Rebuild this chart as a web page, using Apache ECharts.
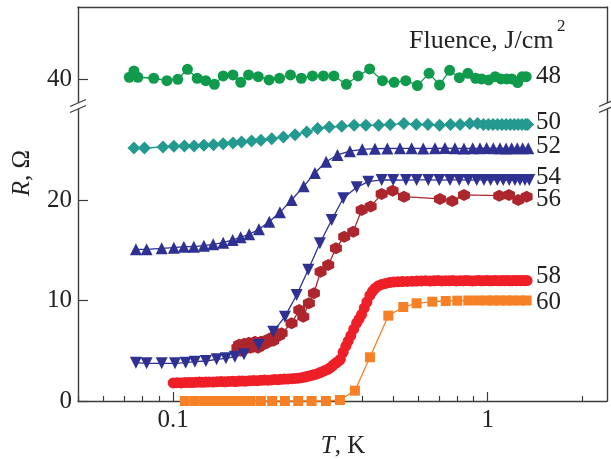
<!DOCTYPE html>
<html><head><meta charset="utf-8">
<script src="https://cdn.jsdelivr.net/npm/echarts@6/dist/echarts.min.js"></script>
<style>html,body{margin:0;padding:0;background:#fff}#c{width:611px;height:459px}</style>
</head><body><div id="c"></div>
<script>
// ---- data (T in K, R in Ohm) ----
const T48 = [0.0725,0.0750,0.0772,0.0867,0.0955,0.1034,0.1110,0.1192,0.1269,0.1352,0.1442,0.1549,0.1640,0.1736,0.1864,0.2018,0.2178,0.2360,0.2555,0.2773,0.3003,0.3243,0.3553,0.3871,0.4214,0.4628,0.5042,0.5490,0.5978,0.6510,0.7031,0.7568,0.8128,0.8650,0.9158,0.9563,1.0067,1.0565,1.1022,1.1502,1.194,1.2456,1.288,1.326];
const R48 = [40.17,40.80,40.17,40.07,39.83,39.97,40.96,40.07,39.83,39.47,40.30,40.40,39.67,40.40,40.23,39.90,40.07,40.40,40.07,40.30,40.30,40.30,39.47,40.30,41.00,39.83,39.67,39.83,39.34,40.56,39.40,40.86,40.13,40.56,40.07,40.00,39.90,40.23,40.00,40.00,40.00,39.64,40.23,40.23];

const T50 = [0.0750,0.0810,0.0928,0.1005,0.1085,0.1165,0.1252,0.1343,0.1442,0.1549,0.1649,0.1775,0.1901,0.2058,0.2241,0.2441,0.2658,0.2879,0.3135,0.3436,0.3761,0.4099,0.4500,0.4899,0.5414,0.5929,0.6457,0.7031,0.7615,0.8175,0.8776,0.9287,0.9696,1.005,1.04,1.075,1.11,1.145,1.18,1.215,1.25,1.285,1.32,1.34];
const R50 = [25.17,25.17,25.27,25.34,25.37,25.37,25.44,25.50,25.60,25.67,25.77,25.87,25.94,26.10,26.27,26.50,26.77,27.10,27.26,27.33,27.43,27.43,27.43,27.50,27.60,27.50,27.50,27.43,27.50,27.50,27.60,27.60,27.52,27.50,27.52,27.50,27.50,27.52,27.50,27.50,27.52,27.50,27.50,27.50];

const T52 = [0.0761,0.0823,0.0919,0.1005,0.1081,0.1163,0.1252,0.1340,0.1442,0.1545,0.1638,0.1744,0.1873,0.2020,0.2185,0.2379,0.2600,0.2822,0.3064,0.3328,0.3648,0.3991,0.4381,0.4796,0.5260,0.5731,0.6240,0.6800,0.7314,0.7870,0.8407,0.8960,0.9452,0.9926,1.042,1.094,1.144,1.192,1.242,1.292,1.346];
const R52 = [15.09,15.09,15.19,15.25,15.35,15.35,15.45,15.59,15.75,16.02,16.29,16.59,17.08,17.84,18.77,20.00,21.36,22.69,23.80,24.48,24.86,25.04,25.10,25.12,25.14,25.14,25.12,25.14,25.16,25.14,25.12,25.14,25.14,25.16,25.14,25.14,25.12,25.14,25.14,25.14,25.14];

const T54 = [0.0761,0.0823,0.0919,0.1013,0.1095,0.1172,0.1270,0.1374,0.1471,0.1571,0.1679,0.1870,0.2080,0.2266,0.2469,0.2688,0.2927,0.3191,0.3473,0.3832,0.4171,0.4601,0.5007,0.5497,0.5943,0.6472,0.7015,0.7586,0.8121,0.8676,0.9226,0.9732,1.022,1.073,1.121,1.171,1.221,1.267,1.314,1.356];
const R54 = [3.81,3.75,3.75,3.75,3.81,3.91,3.98,4.15,4.25,4.41,4.64,5.60,6.90,8.39,10.55,13.05,15.69,18.01,20.17,21.26,21.82,21.99,22.00,21.98,22.00,22.00,21.98,22.00,22.00,21.98,22.00,22.00,21.98,22.00,22.00,21.98,22.00,22.00,22.00,21.98];

const T56 = [0.160,0.162,0.164,0.166,0.168,0.170,0.172,0.174,0.176,0.178,0.180,0.182,0.184,0.186,0.188,0.190,0.193,0.196,0.199,0.202,0.205,0.208,0.211,0.214,0.217,0.2212,0.2379,0.2517,0.2592,0.2701,0.2802,0.2942,0.3112,0.3292,0.3498,0.3737,0.3974,0.4245,0.4601,0.4985,0.5417,0.7052,0.7716,0.8407,1.0887,1.1687,1.251,1.330];
const R56 = [5.3,5.6,5.0,5.4,5.7,5.2,5.5,5.8,5.3,5.6,5.4,5.9,5.6,5.3,5.7,5.9,5.6,6.0,5.8,6.1,6.3,6.0,6.4,6.7,6.5,6.74,7.73,9.05,8.39,9.72,10.72,12.87,13.53,15.19,16.35,16.85,19.0,19.34,20.6,20.93,20.33,20.1,19.9,20.5,20.43,20.5,20.0,20.33];

const T58 = [0.100,0.103,0.106,0.109,0.112,0.115,0.118,0.121,0.124,0.127,0.130,0.134,0.138,0.142,0.146,0.150,0.154,0.158,0.162,0.166,0.170,0.175,0.180,0.185,0.190,0.195,0.200,0.205,0.210,0.215,0.220,0.226,0.232,0.238,0.244,0.250,0.256,0.262,0.268,0.274,0.280,0.286,0.292,0.298,0.304,0.310,0.316,0.322,0.328,0.334,0.340,0.347,0.354,0.360,0.367,0.375,0.383,0.390,0.397,0.405,0.413,0.422,0.430,0.438,0.448,0.460,0.473,0.487,0.502,0.518,0.535,0.555,0.575,0.595,0.615,0.635,0.655,0.675,0.695,0.715,0.735,0.755,0.775,0.795,0.815,0.835,0.855,0.875,0.895,0.915,0.935,0.955,0.975,0.995,1.015,1.035,1.055,1.075,1.095,1.115,1.135,1.155,1.175,1.195,1.215,1.235,1.255,1.275,1.295,1.315,1.335];
const R58 = [1.80,1.82,1.80,1.83,1.85,1.83,1.86,1.88,1.86,1.89,1.90,1.88,1.92,1.93,1.91,1.95,1.96,1.94,1.98,1.99,1.97,2.01,2.03,2.02,2.06,2.08,2.07,2.10,2.13,2.12,2.16,2.18,2.20,2.22,2.24,2.27,2.32,2.38,2.45,2.53,2.60,2.69,2.80,2.92,3.04,3.16,3.32,3.55,3.75,3.92,4.15,4.85,5.45,5.95,6.50,7.15,7.75,8.15,8.60,9.25,9.85,10.50,10.90,11.20,11.45,11.60,11.70,11.78,11.83,11.86,11.88,11.90,11.92,11.93,11.95,11.97,11.94,11.96,11.98,11.95,11.97,11.96,11.98,11.95,11.97,11.96,11.98,11.97,11.95,11.97,11.98,11.96,11.97,11.98,11.96,11.97,11.98,11.97,11.96,11.98,11.97,11.98,11.97,11.96,11.98,11.97,11.98,11.97,11.98,11.97,11.98];

const T60 = [0.1089,0.1172,0.1261,0.1340,0.1436,0.1534,0.1642,0.1763,0.1900,0.2064,0.2266,0.2498,0.2755,0.3059,0.3390,0.3783,0.4222,0.4831,0.5391,0.5943,0.6668,0.7355,0.8004,0.8676,0.9323,0.993,1.042,1.094,1.149,1.200,1.267,1.330];
const R60 = [0,0,0,0,0,0,0,0,0,0,0,0,0,0,0.1,1.03,4.35,8.49,9.35,9.72,9.88,9.95,9.98,10.0,10.0,10.0,10.0,10.0,10.0,10.0,10.0,10.0];

const fluenceLabels = ['48','50','52','54','56','58','60'];
const xMajorTicks = [0.1, 1];
const xMinorTicks = [0.05,0.06,0.07,0.08,0.09,0.2,0.3,0.4,0.5,0.6,0.7,0.8,0.9,2];
const yTicksLow = [0, 10, 20];
const yTicksHigh = [40];

// ---- layout / style ----
const FONT = 'Liberation Serif';
const AX = '#3c3c3c';
const TXT = '#222';
const X_MIN = 0.0498, X_MAX = 2.396;
const LOW = [0, 29.35], HIGH = [37.31, 47.16];

const pairs = (t, r) => t.map((v, i) => [v, r[i]]);
const hexPath = 'path://M5,0L9.33,2.5L9.33,7.5L5,10L0.67,7.5L0.67,2.5Z';

function mk(T, R, color, symbol, size, grid, extra) {
  return Object.assign({
    type: 'line', xAxisIndex: grid === 0 ? 0 : 1, yAxisIndex: grid === 0 ? 0 : 1,
    data: pairs(T, R), symbol: symbol, symbolSize: size, clip: false,
    lineStyle: { color: color, width: 1.3 }, itemStyle: { color: color, borderWidth: 0 },
    animation: false, silent: true, z: 3
  }, extra || {});
}

const chart = echarts.init(document.getElementById('c'), null, { renderer: 'canvas' });
const axisLine = { show: true, lineStyle: { color: AX, width: 1.4 } };
const noTick = { show: false };

const option = {
  backgroundColor: '#fff',
  animation: false,
  grid: [
    { left: 78, right: 4, top: 7, height: 99 },
    { left: 78, right: 4, top: 106, height: 295 }
  ],
  xAxis: [
    { gridIndex: 0, type: 'log', min: X_MIN, max: X_MAX, position: 'top', axisLine: axisLine,
      axisTick: noTick, axisLabel: { show: false }, splitLine: { show: false } },
    { gridIndex: 1, type: 'log', min: X_MIN, max: X_MAX, position: 'bottom', axisLine: axisLine,
      axisTick: { show: true, inside: true, length: 5, customValues: xMinorTicks, lineStyle: { color: AX, width: 1.2 } },
      axisLabel: { show: true, customValues: xMajorTicks, margin: 7, fontFamily: FONT, fontSize: 25, color: TXT,
        formatter: v => (Math.abs(v - 0.1) < 1e-6 ? '0.1' : '1') },
      splitLine: { show: false } },
    { gridIndex: 1, type: 'log', min: X_MIN, max: X_MAX, position: 'bottom', axisLine: { show: false },
      axisTick: { show: true, inside: true, length: 9, customValues: xMajorTicks, lineStyle: { color: AX, width: 1.2 } },
      axisLabel: { show: false }, splitLine: { show: false } }
  ],
  yAxis: [
    { gridIndex: 0, type: 'value', min: HIGH[0], max: HIGH[1], axisLine: axisLine,
      axisTick: { show: true, inside: true, length: 10, customValues: yTicksHigh, lineStyle: { color: AX, width: 1.2 } },
      axisLabel: { show: true, customValues: yTicksHigh, margin: 6, fontFamily: FONT, fontSize: 25, color: TXT },
      splitLine: { show: false } },
    { gridIndex: 1, type: 'value', min: LOW[0], max: LOW[1], axisLine: axisLine,
      axisTick: { show: true, inside: true, length: 10, customValues: yTicksLow, lineStyle: { color: AX, width: 1.2 } },
      axisLabel: { show: true, customValues: yTicksLow, margin: 6, fontFamily: FONT, fontSize: 25, color: TXT },
      splitLine: { show: false } },
    { gridIndex: 0, type: 'value', min: HIGH[0], max: HIGH[1], position: 'right', axisLine: axisLine,
      axisTick: noTick, axisLabel: { show: false }, splitLine: { show: false } },
    { gridIndex: 1, type: 'value', min: LOW[0], max: LOW[1], position: 'right', axisLine: axisLine,
      axisTick: noTick, axisLabel: { show: false }, splitLine: { show: false } }
  ],
  series: [
    mk(T48, R48, '#109a4b', 'circle', 11, 0),
    mk(T50, R50, '#23998f', 'diamond', 13, 1),
    mk(T52, R52, '#2e3192', 'triangle', 12, 1),
    mk(T56, R56, '#ad262e', hexPath, 12, 1),
    mk(T54, R54, '#2e3192', 'triangle', 12, 1, { symbolRotate: 180 }),
    mk(T58, R58, '#ee1f27', 'circle', 11, 1),
    mk(T60, R60, '#f58025', 'rect', 10, 1)
  ],
  graphic: []
};

const labelY = [76, 122, 146, 177, 199, 276, 302.5];
fluenceLabels.forEach((s, i) => {
  option.graphic.push({ type: 'text', x: 536, y: labelY[i], silent: true,
    style: { text: s, fontFamily: FONT, fontSize: 25, fill: TXT, textAlign: 'left', textVerticalAlign: 'middle' } });
});
option.graphic.push(
  { type: 'text', x: 409, y: 41, silent: true,
    style: { text: 'Fluence, J/cm', fontFamily: FONT, fontSize: 26, fill: TXT, textAlign: 'left', textVerticalAlign: 'middle' } },
  { type: 'text', x: 557, y: 27, silent: true,
    style: { text: '2', fontFamily: FONT, fontSize: 17, fill: TXT, textAlign: 'left', textVerticalAlign: 'middle' } },
  { type: 'text', x: 343, y: 446, silent: true,
    style: { text: '{i|T}, K', fontFamily: FONT, fontSize: 25, fill: TXT, textAlign: 'center', textVerticalAlign: 'middle',
      rich: { i: { fontFamily: FONT, fontSize: 25, fontStyle: 'italic', fill: TXT } } } },
  { type: 'text', x: 22, y: 173, rotation: Math.PI / 2, silent: true,
    style: { text: '{i|R}, Ω', fontFamily: FONT, fontSize: 25, fill: TXT, textAlign: 'center', textVerticalAlign: 'middle',
      rich: { i: { fontFamily: FONT, fontSize: 25, fontStyle: 'italic', fill: TXT } } } }
);
// axis break marks
[78, 607].forEach(cx => {
  option.graphic.push(
    { type: 'rect', shape: { x: cx - 3, y: 103, width: 6, height: 6 }, style: { fill: '#fff' }, z: 10, silent: true },
    { type: 'line', shape: { x1: cx - 8, y1: 106.5, x2: cx + 8, y2: 99.5 }, style: { stroke: AX, lineWidth: 1.3 }, z: 11, silent: true },
    { type: 'line', shape: { x1: cx - 8, y1: 112.5, x2: cx + 8, y2: 105.5 }, style: { stroke: AX, lineWidth: 1.3 }, z: 11, silent: true }
  );
});

chart.setOption(option);
</script></body></html>
